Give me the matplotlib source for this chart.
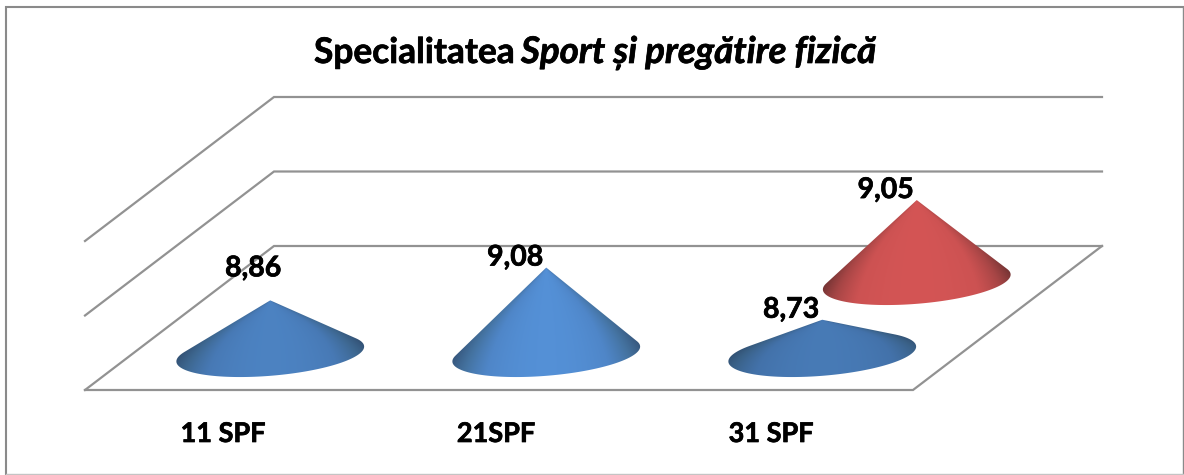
import numpy as np
import matplotlib
matplotlib.use("Agg")
import matplotlib.pyplot as plt
import matplotlib.patheffects as pe
from matplotlib.patches import Polygon
from matplotlib.colors import LinearSegmentedColormap

# Date
categories = ['11 SPF', '21SPF', '31 SPF']
value_labels = ['8,86', '9,08', '8,73', '9,05']
values = [8.86, 9.08, 8.73, 9.05]
value_cat = [0, 1, 2, 2]
value_series = [0, 0, 0, 1]
gridlines = [8.5, 9.0, 9.5]

# Deplasarea etichetelor fata de varf (pixeli)
label_dx = [-17, -31, -31, -31]
label_dy = [-24, -2, -2, -2]
cat_label_dx = [0, -3, -4]

# Proiectia 3D -> pixeli
X0, Y0 = 85, 390
CAT_W = 276
DEPTH_X, DEPTH_Y = 189, 144
SERIES_DEPTH = [0.25, 0.75]
VAL_MIN = 8.5
VAL_K = 149
R_CAT = 0.322
R_DEPTH = 0.16

def project(cat, depth, val):
    x = X0 + cat * CAT_W + depth * DEPTH_X
    y = Y0 - depth * DEPTH_Y - (val - VAL_MIN) * VAL_K
    return x, y

blue = LinearSegmentedColormap.from_list('b', ['#5490d6', '#4f86c8', '#44729f', '#36567c'])
red = LinearSegmentedColormap.from_list('r', ['#d65656', '#cf5353', '#a84646', '#743434'])

plt.rcParams['font.family'] = ['Lato', 'DejaVu Sans']
heavy = [pe.withStroke(linewidth=0.5, foreground='black')]

fig = plt.figure(figsize=(11.84, 4.75), dpi=100)
ax = fig.add_axes([0, 0, 1, 1])
ax.set_xlim(0, 1184)
ax.set_ylim(475, 0)
ax.axis('off')

# Chenar
ax.plot([6, 6, 1183], [474, 6.5, 6.5], color='#8a8a8a', lw=1.5, solid_joinstyle='miter')
ax.plot([1183, 1183], [6.5, 474], color='#8a8a8a', lw=1.0)
ax.plot([6, 1183], [474, 474], color='#c4c4c4', lw=1.0)

# Grila
for g in gridlines:
    x1, y1 = project(0, 0, g)
    x2, y2 = project(0, 1, g)
    x3, y3 = project(3, 1, g)
    ax.plot([x1, x2, x3], [y1, y2, y3], color='#929292', lw=1.6, solid_joinstyle='miter')
x1, y1 = project(0, 0, gridlines[0])
x2, y2 = project(3, 0, gridlines[0])
x3, y3 = project(3, 1, gridlines[0])
ax.plot([x1, x2, x3], [y1, y2, y3], color='#929292', lw=1.6, solid_joinstyle='miter')

# Conuri
t = np.linspace(0, 2 * np.pi, 721)
for i in np.argsort(value_series)[::-1]:
    val, cat, ser = values[i], value_cat[i], value_series[i]
    cx, cy = project(cat + 0.5, SERIES_DEPTH[ser], VAL_MIN)
    tipx, tipy = project(cat + 0.5, SERIES_DEPTH[ser], val)
    h = cy - tipy
    ex = cx + R_CAT * CAT_W * np.cos(t) + R_DEPTH * DEPTH_X * np.sin(t)
    ey = cy - R_DEPTH * DEPTH_Y * np.sin(t)

    # tangentele din varf la elipsa
    slope = (ex - tipx) / (ey - tipy)
    sl, sr = slope.min(), slope.max()
    i_l, i_r = np.argmin(slope), np.argmax(slope)
    if i_r < i_l:
        front = np.arange(i_l, i_r + len(t) + 1) % len(t)
    else:
        front = np.arange(i_l, i_r + 1)
    if ey[front].mean() < cy:
        front = np.arange(i_r, i_l + (len(t) if i_l < i_r else 0) + 1) % len(t)
    px = np.r_[tipx, ex[front]]
    py = np.r_[tipy, ey[front]]

    # umbrire: amestec intre evantai din varf si orizontala
    half = ex.max() - cx
    xs = np.arange(np.floor(ex.min()) - 2, np.ceil(ex.max()) + 3)
    ys = np.arange(np.floor(tipy) - 2, np.ceil(ey.max()) + 3)
    gx, gy = np.meshgrid(xs, ys)
    s = (gx - tipx) / np.maximum(gy - tipy, 1)
    fan = np.clip(np.abs(np.where(s < 0, s / abs(sl), s / sr)), 0, 1)
    side = np.clip(np.abs(gx - tipx) / half, 0, 1)
    shade = 0.5 * fan ** 2.2 + 0.5 * side ** 2
    cmap = red if ser == 1 else blue
    rgba = cmap(shade)
    rgba[..., :3] *= 0.75 + 0.25 * h / 86
    im = ax.imshow(np.clip(rgba, 0, 1), extent=[xs[0], xs[-1], ys[-1], ys[0]], aspect='auto',
                   interpolation='bilinear', zorder=3)
    clip = Polygon(np.c_[px, py], closed=True, transform=ax.transData, fc='none', ec='none')
    ax.add_patch(clip)
    im.set_clip_path(clip)

    ax.text(tipx + label_dx[i], tipy + label_dy[i], value_labels[i], ha='center', va='baseline',
            fontsize=20.5, fontweight='bold', color='black', zorder=5, path_effects=heavy)

ax.set_xlim(0, 1184)
ax.set_ylim(475, 0)

# Etichete categorii
for i, c in enumerate(categories):
    xc, _ = project(i + 0.5, 0, VAL_MIN)
    ax.text(xc + cat_label_dx[i], 442, c, ha='center', va='baseline', fontsize=19.5, fontweight='bold',
            color='black', path_effects=heavy)

# Titlu
ax.text(314, 63, 'Specialitatea', ha='left', va='baseline', fontsize=25.4, fontweight='bold', color='black',
        path_effects=heavy)
ax.text(521, 63, 'Sport și pregătire fizică', ha='left', va='baseline', fontsize=26.4, fontweight='bold',
        style='italic', color='black', path_effects=heavy)

fig.savefig('out.png', dpi=100, facecolor='white')
